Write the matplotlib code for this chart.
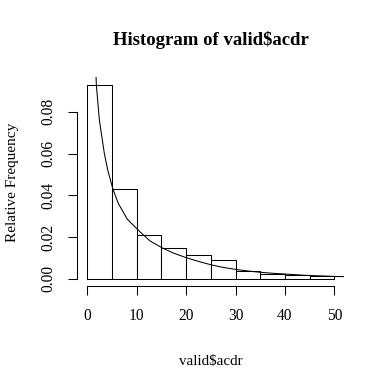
import matplotlib
matplotlib.use("Agg")
import matplotlib.pyplot as plt

# ------------------------------------------------------------
# Data
# ------------------------------------------------------------
bin_edges = [0, 5, 10, 15, 20, 25, 30, 35, 40, 45, 50]
rel_freq = [0.0928, 0.0429, 0.0208, 0.0149, 0.0115, 0.0091,
            0.0036, 0.0024, 0.0019, 0.0014]

# fitted density curve drawn over the bars
curve_x = [1.76, 1.82, 2.43, 3.44, 4.13, 5.14, 6.28, 8.10, 10.65, 12.69,
           15.06, 17.41, 20.12, 22.81, 25.18, 27.53, 30.24, 32.9, 34.96,
           37.65, 41.7, 44.4, 50.1, 52.1]
curve_y = [0.0968, 0.0928, 0.0760, 0.0600, 0.0520, 0.0432, 0.0360, 0.0285,
           0.0225, 0.0181, 0.0149, 0.0123, 0.0100, 0.0081, 0.0066, 0.0054,
           0.0044, 0.0036, 0.0031, 0.0026, 0.0020, 0.0016, 0.0011, 0.0010]

x_ticks = [0, 10, 20, 30, 40, 50]
y_ticks = [0.00, 0.02, 0.04, 0.06, 0.08]

# ------------------------------------------------------------
# Plot
# ------------------------------------------------------------
plt.rcParams["font.family"] = ["Liberation Serif", "DejaVu Serif"]

fig = plt.figure(figsize=(3.84, 3.83), dpi=100)
ax = fig.add_axes([0.2018, 0.252, 0.6946, 0.546])

lefts = bin_edges[:-1]
widths = [b - a for a, b in zip(bin_edges[:-1], bin_edges[1:])]
ax.bar(lefts, rel_freq, width=widths, align="edge", color="white",
       edgecolor="black", linewidth=0.75)
ax.plot(curve_x, curve_y, color="black", linewidth=0.75)

ymax = max(rel_freq)
ax.set_xlim(-0.04 * 50, 50 * 1.04)
ax.set_ylim(-0.04 * ymax, ymax * 1.04)

for side in ["top", "right"]:
    ax.spines[side].set_visible(False)
ax.spines["left"].set_bounds(0, 0.08)
ax.spines["bottom"].set_bounds(0, 50)
ax.spines["left"].set_linewidth(0.75)
ax.spines["bottom"].set_linewidth(0.75)

ax.set_xticks(x_ticks)
ax.set_xticklabels([str(t) for t in x_ticks])
ax.set_yticks(y_ticks)
ax.set_yticklabels(["%.2f" % t for t in y_ticks], rotation=90, va="center")
ax.tick_params(axis="both", length=6.5, width=0.75, pad=9, labelsize=11.2)

ax.set_xlabel("valid$acdr", fontsize=10.8, labelpad=22)
ax.set_ylabel("Relative Frequency", fontsize=11, labelpad=15)
ax.set_title("Histogram of valid$acdr", fontsize=13.5, fontweight="bold", pad=23)

plt.savefig("out.png", dpi=100)
